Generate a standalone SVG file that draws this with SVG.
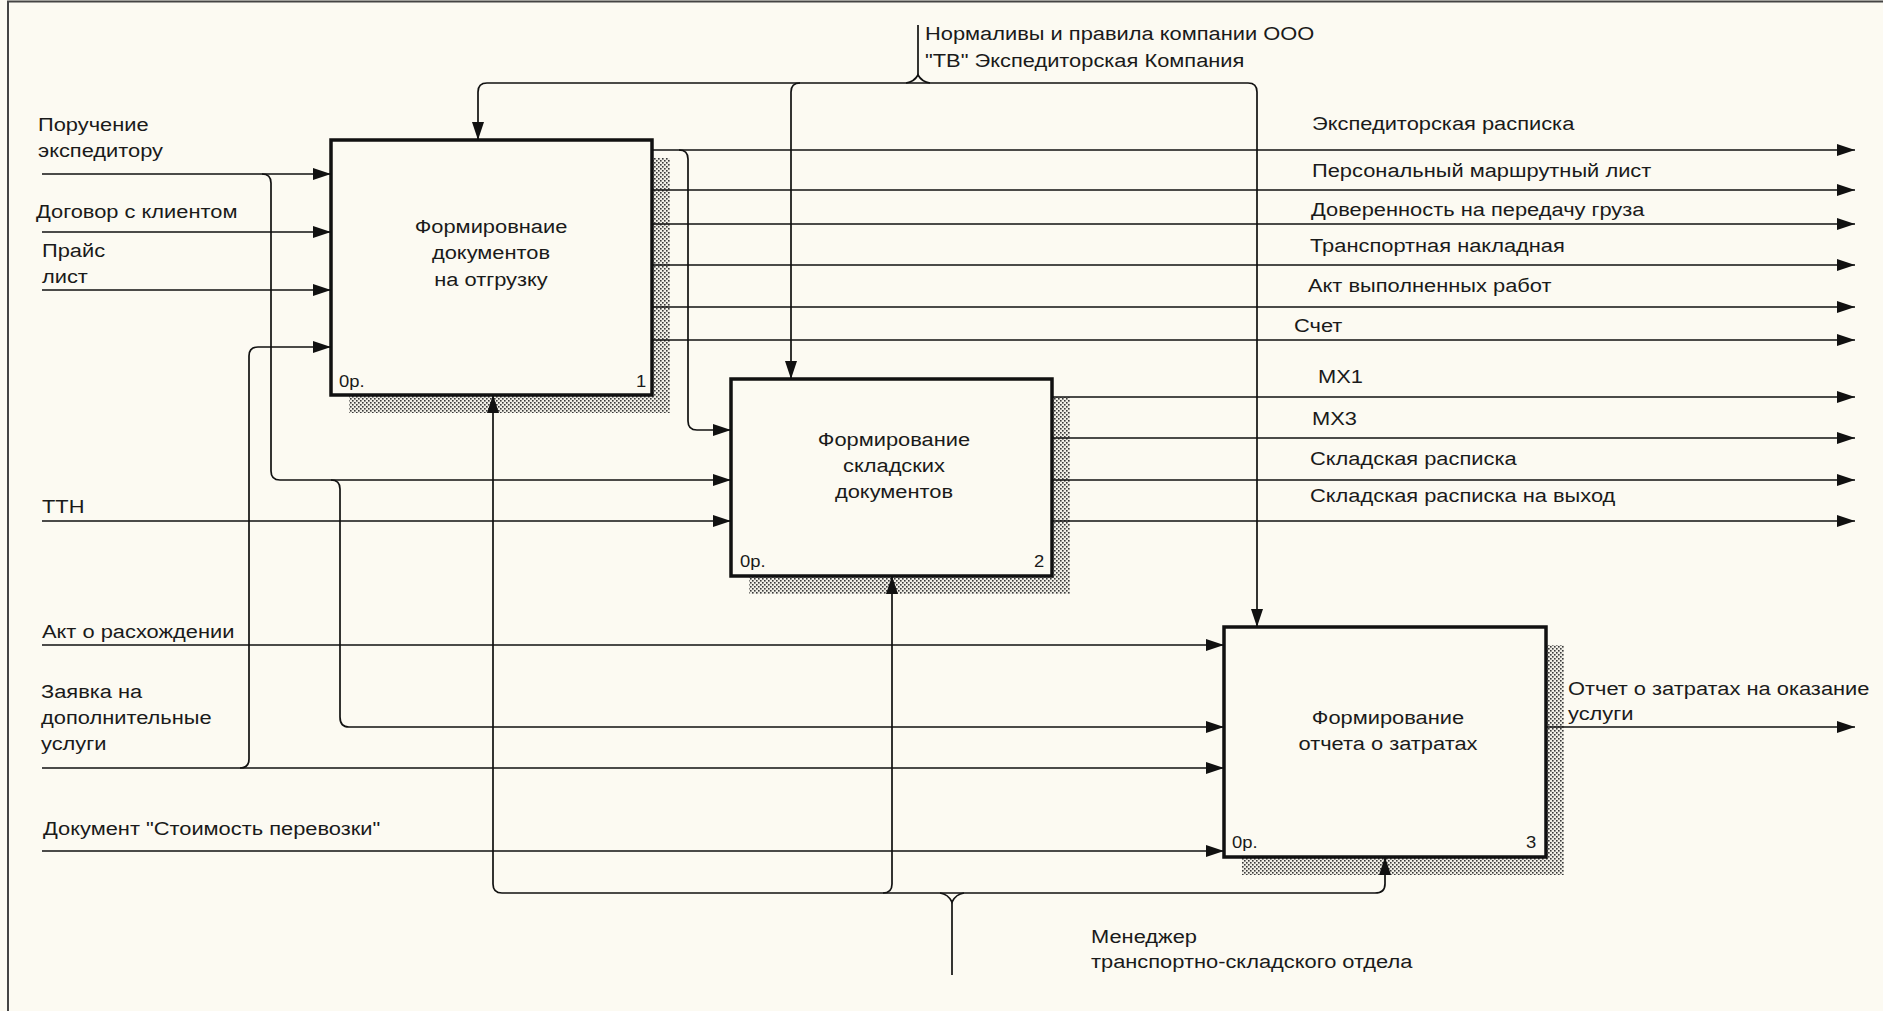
<svg xmlns="http://www.w3.org/2000/svg" width="1883" height="1011" viewBox="0 0 1883 1011">
<style>
.t{font-family:"Liberation Sans",Arial,sans-serif;font-size:19px;fill:#1a1a1a}
.s{font-size:16px}
.c{text-anchor:middle}
.box{fill:#fcfaf2;stroke:#111;stroke-width:3.5}
.sh{fill:url(#hatch)}
.ln{fill:none;stroke:#111;stroke-width:1.7}
.frame{fill:none;stroke:#444;stroke-width:2}
</style>
<defs>
<pattern id="hatch" width="4" height="4" patternUnits="userSpaceOnUse">
<rect width="4" height="4" fill="#f0eee6"/>
<rect x="0" y="0" width="1.6" height="1.6" fill="#3a3a3a"/>
<rect x="2" y="2" width="1.6" height="1.6" fill="#3a3a3a"/>
</pattern>
<marker id="ah" markerUnits="userSpaceOnUse" viewBox="0 0 18 12" markerWidth="18" markerHeight="12" refX="18" refY="6" orient="auto">
<path d="M0,0 L18,6 L0,12 z" fill="#111"/>
</marker>
</defs>
<rect width="1883" height="1011" fill="#fcfaf2"/>
<path class="frame" d="M8,1011 V1.5 H1883"/>

<g id="node1">
<rect class="sh" x="349" y="158" width="321" height="255"/>
<rect class="box" x="331" y="140" width="321" height="255"/>
<text class="t c" transform="translate(491,233) scale(1.15,1)">Формировнаие<tspan x="0" dy="26.5">документов</tspan><tspan x="0" dy="26.5">на отгрузку</tspan></text>
<text class="t s" transform="translate(339,387) scale(1.15,1)">0р.</text>
<text class="t s" transform="translate(636,387) scale(1.15,1)">1</text>
</g>

<g id="node2">
<rect class="sh" x="749" y="397" width="321" height="197"/>
<rect class="box" x="731" y="379" width="321" height="197"/>
<text class="t c" transform="translate(894,446) scale(1.15,1)">Формирование<tspan x="0" dy="26">складских</tspan><tspan x="0" dy="26">документов</tspan></text>
<text class="t s" transform="translate(740,567) scale(1.15,1)">0р.</text>
<text class="t s" transform="translate(1034,567) scale(1.15,1)">2</text>
</g>

<g id="node3">
<rect class="sh" x="1242" y="645" width="322" height="230"/>
<rect class="box" x="1224" y="627" width="322" height="230"/>
<text class="t c" transform="translate(1388,724) scale(1.15,1)">Формирование<tspan x="0" dy="26">отчета о затратах</tspan></text>
<text class="t s" transform="translate(1232,848) scale(1.15,1)">0р.</text>
<text class="t s" transform="translate(1526,848) scale(1.15,1)">3</text>
</g>

<g id="connectors">
<path class="ln" marker-end="url(#ah)" d="M42,174 H331"/>
<path class="ln" marker-end="url(#ah)" d="M262,174 Q271,174 271,183 V471 Q271,480 280,480 H731"/>
<path class="ln" marker-end="url(#ah)" d="M331,480 Q340,480 340,489 V717 Q340,727 349,727 H1224"/>
<path class="ln" marker-end="url(#ah)" d="M42,232 H331"/>
<path class="ln" marker-end="url(#ah)" d="M42,290 H331"/>
<path class="ln" marker-end="url(#ah)" d="M42,768 H1224"/>
<path class="ln" marker-end="url(#ah)" d="M240,768 Q249,768 249,759 V356 Q249,347 258,347 H331"/>
<path class="ln" marker-end="url(#ah)" d="M42,521 H731"/>
<path class="ln" marker-end="url(#ah)" d="M42,645 H1224"/>
<path class="ln" marker-end="url(#ah)" d="M42,851 H1224"/>
<path class="ln" marker-end="url(#ah)" d="M652,150 H1855"/>
<path class="ln" marker-end="url(#ah)" d="M652,190 H1855"/>
<path class="ln" marker-end="url(#ah)" d="M652,224 H1855"/>
<path class="ln" marker-end="url(#ah)" d="M652,265 H1855"/>
<path class="ln" marker-end="url(#ah)" d="M652,307 H1855"/>
<path class="ln" marker-end="url(#ah)" d="M652,340 H1855"/>
<path class="ln" marker-end="url(#ah)" d="M679,150 Q688,150 688,159 V421 Q688,430 697,430 H731"/>
<path class="ln" marker-end="url(#ah)" d="M1052,397 H1855"/>
<path class="ln" marker-end="url(#ah)" d="M1052,438 H1855"/>
<path class="ln" marker-end="url(#ah)" d="M1052,480 H1855"/>
<path class="ln" marker-end="url(#ah)" d="M1052,521 H1855"/>
<path class="ln" marker-end="url(#ah)" d="M1546,727 H1855"/>
<path class="ln" d="M918,25 V75"/>
<path class="ln" d="M906,83 Q914,82 918,75 Q922,82 930,83"/>
<path class="ln" marker-end="url(#ah)" d="M487,83 Q478,83 478,92 V140"/>
<path class="ln" marker-end="url(#ah)" d="M487,83 H1248 Q1257,83 1257,92 V627"/>
<path class="ln" marker-end="url(#ah)" d="M800,83 Q791,83 791,92 V379"/>
<path class="ln" d="M952,975 V902"/>
<path class="ln" d="M940,893 Q948,894 952,902 Q956,894 964,893"/>
<path class="ln" marker-end="url(#ah)" d="M502,893 Q493,893 493,884 V395"/>
<path class="ln" marker-end="url(#ah)" d="M502,893 H1375 Q1385,893 1385,884 V857"/>
<path class="ln" marker-end="url(#ah)" d="M883,893 Q892,893 892,884 V576"/>
</g>

<g id="labels">
<text class="t" transform="translate(38,131) scale(1.15,1)">Поручение<tspan x="0" dy="26">экспедитору</tspan></text>
<text class="t" transform="translate(36,218) scale(1.15,1)">Договор с клиентом</text>
<text class="t" transform="translate(42,257) scale(1.15,1)">Прайс<tspan x="0" dy="26">лист</tspan></text>
<text class="t" transform="translate(42,513) scale(1.15,1)">ТТН</text>
<text class="t" transform="translate(42,638) scale(1.15,1)">Акт о расхождении</text>
<text class="t" transform="translate(41,698) scale(1.15,1)">Заявка на<tspan x="0" dy="26">дополнительные</tspan><tspan x="0" dy="26">услуги</tspan></text>
<text class="t" transform="translate(43,835) scale(1.15,1)">Документ "Стоимость перевозки"</text>
<text class="t" transform="translate(925,40) scale(1.15,1)">Нормаливы и правила компании ООО<tspan x="0" dy="27">"ТВ" Экспедиторская Компания</tspan></text>
<text class="t" transform="translate(1312,130) scale(1.15,1)">Экспедиторская расписка</text>
<text class="t" transform="translate(1312,177) scale(1.15,1)">Персональный маршрутный лист</text>
<text class="t" transform="translate(1311,216) scale(1.15,1)">Доверенность на передачу груза</text>
<text class="t" transform="translate(1310,252) scale(1.15,1)">Транспортная накладная</text>
<text class="t" transform="translate(1308,292) scale(1.15,1)">Акт выполненных работ</text>
<text class="t" transform="translate(1294,332) scale(1.15,1)">Счет</text>
<text class="t" transform="translate(1318,383) scale(1.15,1)">МХ1</text>
<text class="t" transform="translate(1312,425) scale(1.15,1)">МХ3</text>
<text class="t" transform="translate(1310,465) scale(1.15,1)">Складская расписка</text>
<text class="t" transform="translate(1310,502) scale(1.15,1)">Складская расписка на выход</text>
<text class="t" transform="translate(1568,695) scale(1.15,1)">Отчет о затратах на оказание<tspan x="0" dy="25">услуги</tspan></text>
<text class="t" transform="translate(1091,943) scale(1.15,1)">Менеджер<tspan x="0" dy="25">транспортно-складского отдела</tspan></text>
</g>
</svg>
